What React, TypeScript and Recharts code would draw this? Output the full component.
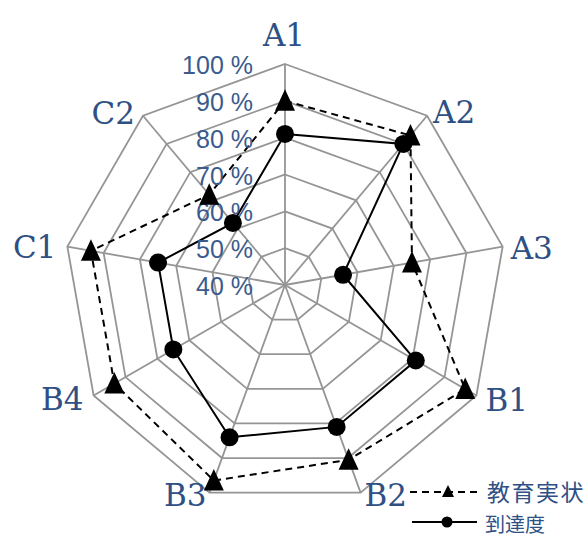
import React from "react";
import { RadarChart, Radar, PolarGrid, PolarAngleAxis, PolarRadiusAxis } from "recharts";

const categories = ["A1", "A2", "A3", "B1", "B2", "B3", "B4", "C1", "C2"];
const jissai = [90, 93, 75, 96.5, 90.5, 96.5, 93.5, 93.5, 72];
const toutatsu = [81, 90, 56, 81, 81, 84, 75, 75, 62];
const radiusTicks = [40, 50, 60, 70, 80, 90, 100];
const seriesNames = ["教育実状", "到達度"];

const data = categories.map((c, i) => ({ subject: c, jissai: jissai[i], toutatsu: toutatsu[i] }));

const W = 587;
const H = 538;
const CX = 285;
const CY = 285;
const R = 221;
const BLUE = "#2e5084";
const TICKBLUE = "#3a5b8c";

// label layout: [anchor, dx, dy] relative to outer vertex
const labelLayout: [string, number, number][] = [
  ["middle", -1, -29],
  ["start", 6, -4],
  ["start", 8, 1],
  ["start", 9, 4],
  ["start", 4, 2],
  ["end", -3, 2],
  ["end", -10, 3],
  ["end", -11, 0],
  ["end", -8, -3],
];

const AngleTick = (props: any) => {
  const { payload } = props;
  const i = categories.indexOf(payload.value);
  const ang = ((90 - i * (360 / categories.length)) * Math.PI) / 180;
  const vx = CX + R * Math.cos(ang);
  const vy = CY - R * Math.sin(ang);
  const [anchor, dx, dy] = labelLayout[i];
  return (
    <text
      x={vx + dx}
      y={vy + dy}
      textAnchor={anchor as any}
      dominantBaseline="central"
      fill={BLUE}
      fontSize={31}
      fontFamily="'DejaVu Serif', serif"
    >
      {payload.value}
    </text>
  );
};

const RadiusTick = (props: any) => {
  const { x, y, payload } = props;
  return (
    <text
      x={x - 32}
      y={y + 1}
      textAnchor="end"
      dominantBaseline="central"
      fill={TICKBLUE}
      fontSize={25}
      fontFamily="'Liberation Sans', Arial, sans-serif"
    >
      {payload.value} %
    </text>
  );
};

const Triangle = (props: any) => {
  const { cx, cy, key } = props;
  if (cx == null || cy == null) return <g key={key} />;
  const s = 10;
  return (
    <path
      key={key}
      d={`M${cx},${cy - s * 1.15} L${cx + s},${cy + s * 1.0} L${cx - s},${cy + s * 1.0} Z`}
      fill="#000"
    />
  );
};

const Dot = (props: any) => {
  const { cx, cy, key } = props;
  if (cx == null || cy == null) return <g key={key} />;
  return <circle key={key} cx={cx} cy={cy} r={9} fill="#000" />;
};

export default function App() {
  return (
    <div style={{ position: "absolute", left: 0, top: 0, width: W, height: H, background: "#fff" }}>
      <RadarChart
        width={W}
        height={H}
        data={data}
        cx={CX}
        cy={CY}
        outerRadius={R}
        startAngle={90}
        endAngle={-270}
        margin={{ top: 0, right: 0, bottom: 0, left: 0 }}
      >
        <PolarGrid gridType="polygon" stroke="#959595" strokeWidth={1.8} />
        <PolarAngleAxis dataKey="subject" tick={<AngleTick />} tickLine={false} axisLine={false} />
        <PolarRadiusAxis
          angle={90}
          domain={[40, 100]}
          ticks={radiusTicks}
          type="number"
          axisLine={false}
          tickLine={false}
          tick={<RadiusTick />}
        />
        <Radar
          name={seriesNames[0]}
          dataKey="jissai"
          stroke="#000"
          strokeWidth={2}
          strokeDasharray="7 5"
          fill="none"
          fillOpacity={0}
          dot={(p: any) => <Triangle {...p} />}
          isAnimationActive={false}
        />
        <Radar
          name={seriesNames[1]}
          dataKey="toutatsu"
          stroke="#000"
          strokeWidth={2}
          fill="none"
          fillOpacity={0}
          dot={(p: any) => <Dot {...p} />}
          isAnimationActive={false}
        />
      </RadarChart>
      <svg width={W} height={H} style={{ position: "absolute", left: 0, top: 0, pointerEvents: "none" }}>
        <line x1={410} y1={492} x2={477} y2={492} stroke="#000" strokeWidth={2} strokeDasharray="7 5" />
        <path d="M448,485 L454,497 L442,497 Z" fill="#000" />
        <text x={487} y={491} dominantBaseline="central" fill={BLUE} fontSize={23} letterSpacing={1.5} fontFamily="'Noto Sans CJK JP', sans-serif">
          {seriesNames[0]}
        </text>
        <line x1={412} y1={522} x2={477} y2={522} stroke="#000" strokeWidth={2} />
        <circle cx={447} cy={522} r={5.5} fill="#000" />
        <text x={485} y={523} dominantBaseline="central" fill={BLUE} fontSize={20} fontFamily="'Noto Sans CJK JP', sans-serif">
          {seriesNames[1]}
        </text>
      </svg>
    </div>
  );
}
